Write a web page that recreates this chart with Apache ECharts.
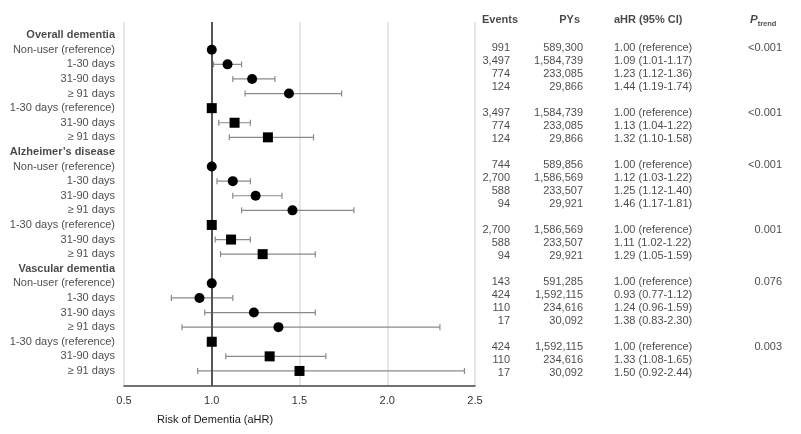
<!DOCTYPE html>
<html>
<head>
<meta charset="utf-8">
<script src="https://cdn.jsdelivr.net/npm/echarts@6/dist/echarts.min.js"></script>
<style>
html,body{margin:0;padding:0;background:#fff;}
#chart{width:801px;height:434px;}
</style>
</head>
<body>
<div id="chart"></div>
<script>
// ---------- data ----------
var groups = ['Overall dementia', 'Alzheimer\u2019s disease', 'Vascular dementia'];
var rowLabels = ['Non-user (reference)', '1-30 days', '31-90 days', '\u2265 91 days',
                 '1-30 days (reference)', '31-90 days', '\u2265 91 days'];
var markerShapes = ['circle', 'circle', 'circle', 'circle', 'rect', 'rect', 'rect'];

var hrOverall = [1.00, 1.09, 1.23, 1.44, 1.00, 1.13, 1.32];
var loOverall = [null, 1.01, 1.12, 1.19, null, 1.04, 1.10];
var hiOverall = [null, 1.17, 1.36, 1.74, null, 1.22, 1.58];

var hrAD = [1.00, 1.12, 1.25, 1.46, 1.00, 1.11, 1.29];
var loAD = [null, 1.03, 1.12, 1.17, null, 1.02, 1.05];
var hiAD = [null, 1.22, 1.40, 1.81, null, 1.22, 1.59];

var hrVaD = [1.00, 0.93, 1.24, 1.38, 1.00, 1.33, 1.50];
var loVaD = [null, 0.77, 0.96, 0.83, null, 1.08, 0.92];
var hiVaD = [null, 1.12, 1.59, 2.30, null, 1.65, 2.44];

var eventsOverall = ['991', '3,497', '774', '124', '3,497', '774', '124'];
var eventsAD = ['744', '2,700', '588', '94', '2,700', '588', '94'];
var eventsVaD = ['143', '424', '110', '17', '424', '110', '17'];

var pysOverall = ['589,300', '1,584,739', '233,085', '29,866', '1,584,739', '233,085', '29,866'];
var pysAD = ['589,856', '1,586,569', '233,507', '29,921', '1,586,569', '233,507', '29,921'];
var pysVaD = ['591,285', '1,592,115', '234,616', '30,092', '1,592,115', '234,616', '30,092'];

var pTrend = ['<0.001', '<0.001', '<0.001', '0.001', '0.076', '0.003']; // one per block
var blockSizes = [4, 3];

var xTicks = [0.5, 1.0, 1.5, 2.0, 2.5];
var xTitle = 'Risk of Dementia (aHR)';

// ---------- build ----------
var hrAll = [hrOverall, hrAD, hrVaD];
var loAll = [loOverall, loAD, loVaD];
var hiAll = [hiOverall, hiAD, hiVaD];
var evAll = [eventsOverall, eventsAD, eventsVaD];
var pyAll = [pysOverall, pysAD, pysVaD];

var labelData = [], circleData = [], squareData = [], ciData = [];
var tableEvents = [], tablePys = [], tableHR = [], tableP = [];
var row = 0, line = 0, block = 0;
groups.forEach(function (g, gi) {
  labelData.push({value: [xTicks[0], row], label: {fontWeight: 'bold'}, name: g});
  row++;
  var idx = 0;
  blockSizes.forEach(function (n) {
    for (var k = 0; k < n; k++) {
      var i = idx + k;
      var hr = hrAll[gi][i], lo = loAll[gi][i], hi = hiAll[gi][i];
      labelData.push({value: [xTicks[0], row], name: rowLabels[i]});
      (markerShapes[i] === 'circle' ? circleData : squareData).push([hr, row]);
      if (lo != null) ciData.push([lo, hi, row]);
      tableEvents.push({value: [0, line], name: evAll[gi][i]});
      tablePys.push({value: [0, line], name: pyAll[gi][i]});
      tableHR.push({value: [0, line], name: lo == null ? hr.toFixed(2) + ' (reference)'
        : hr.toFixed(2) + ' (' + lo.toFixed(2) + '-' + hi.toFixed(2) + ')'});
      if (k === 0) tableP.push({value: [0, line], name: pTrend[block]});
      row++; line++;
    }
    idx += n; line++; block++;
  });
});

var txt = '#1a1a1a';
var font = 'Liberation Sans, Arial, sans-serif';

function colSeries(data, colX, align) {
  return {
    type: 'scatter', xAxisIndex: 1, yAxisIndex: 1, symbolSize: 0, silent: true,
    data: data.map(function (d) { return {value: [colX, d.value[1]], name: d.name}; }),
    label: {show: true, position: align === 'right' ? 'left' : 'right', distance: 0,
      formatter: '{b}', color: txt, fontSize: 11, fontFamily: font}
  };
}

var chart = echarts.init(document.getElementById('chart'), null, {renderer: 'canvas'});
chart.setOption({
  animation: false,
  backgroundColor: '#fff',
  textStyle: {fontFamily: font},
  grid: [
    {left: 124, top: 22, width: 351, height: 364},
    {left: 460, top: 9, width: 341, height: 390}
  ],
  xAxis: [
    {type: 'value', gridIndex: 0, min: xTicks[0], max: xTicks[xTicks.length - 1], interval: 0.5,
     axisLine: {show: true, onZero: false, lineStyle: {color: '#444', width: 1.5}},
     axisTick: {show: false},
     axisLabel: {color: '#333', fontSize: 11, margin: 9, formatter: function (v) { return v.toFixed(1); }},
     splitLine: {show: true, lineStyle: {color: '#dedede', width: 1.5}}},
    {type: 'value', gridIndex: 1, min: 0, max: 341, show: false}
  ],
  yAxis: [
    {type: 'value', gridIndex: 0, inverse: true, min: -0.9, max: 24.03, show: false},
    {type: 'value', gridIndex: 1, inverse: true, min: -3, max: 27, show: false}
  ],
  graphic: [
    {type: 'text', left: 157, top: 414, style: {text: xTitle, fill: txt, font: '11px ' + font}}
  ],
  series: [
    {
      type: 'custom', xAxisIndex: 0, yAxisIndex: 0, silent: true, z: 2,
      data: ciData,
      renderItem: function (params, api) {
        var a = api.coord([api.value(0), api.value(2)]);
        var b = api.coord([api.value(1), api.value(2)]);
        var st = {stroke: '#8a8a8a', lineWidth: 1.2};
        return {type: 'group', children: [
          {type: 'line', shape: {x1: a[0], y1: a[1], x2: b[0], y2: b[1]}, style: st},
          {type: 'line', shape: {x1: a[0], y1: a[1] - 3, x2: a[0], y2: a[1] + 3}, style: st},
          {type: 'line', shape: {x1: b[0], y1: b[1] - 3, x2: b[0], y2: b[1] + 3}, style: st}
        ]};
      }
    },
    {
      type: 'scatter', xAxisIndex: 0, yAxisIndex: 0, symbolSize: 0, silent: true,
      data: labelData,
      label: {show: true, position: 'left', distance: 9, formatter: '{b}', color: txt,
        fontSize: 11, fontFamily: font},
      markLine: {silent: true, symbol: 'none', label: {show: false},
        lineStyle: {color: '#555', width: 2, type: 'solid'}, data: [{xAxis: 1}], z: 3}
    },
    {type: 'scatter', xAxisIndex: 0, yAxisIndex: 0, symbol: 'circle', symbolSize: 10, silent: true, z: 5,
     itemStyle: {color: '#000', opacity: 1}, data: circleData},
    {type: 'scatter', xAxisIndex: 0, yAxisIndex: 0, symbol: 'rect', symbolSize: 10, silent: true, z: 5,
     itemStyle: {color: '#000', opacity: 1}, data: squareData},
    colSeries(tableEvents, 50, 'right'),
    colSeries(tablePys, 123, 'right'),
    colSeries(tableHR, 154, 'left'),
    colSeries(tableP, 322, 'right'),
    {
      type: 'scatter', xAxisIndex: 1, yAxisIndex: 1, symbolSize: 0, silent: true,
      data: [
        {value: [22, -2.15], name: 'Events', label: {position: 'right'}},
        {value: [120, -2.15], name: 'PYs', label: {position: 'left'}},
        {value: [154, -2.15], name: 'aHR (95% CI)', label: {position: 'right'}},
        {value: [290, -2.15], name: '{p|P}{t|trend}', label: {position: 'right'}}
      ],
      label: {show: true, distance: 0, formatter: '{b}', color: txt, fontSize: 11, fontWeight: 'bold',
        fontFamily: font,
        rich: {
          p: {fontSize: 11.5, fontStyle: 'italic', fontWeight: 'bold', color: txt, fontFamily: font},
          t: {fontSize: 7.5, fontWeight: 'bold', color: txt, fontFamily: font, padding: [7, 0, 0, 0]}
        }}
    }
  ]
});
</script>
</body>
</html>
